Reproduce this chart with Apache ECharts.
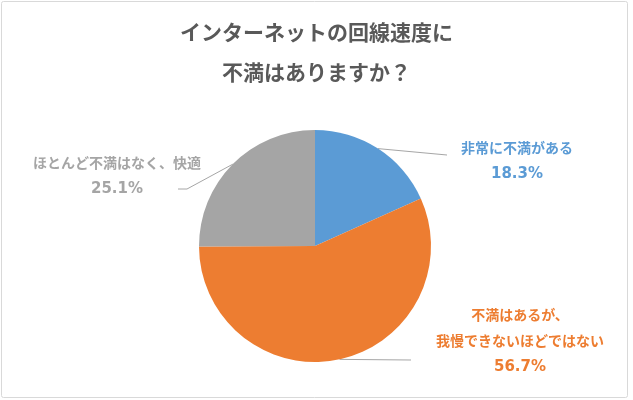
<!DOCTYPE html>
<html>
<head>
<meta charset="utf-8">
<script src="https://cdn.jsdelivr.net/npm/echarts@6/dist/echarts.min.js"></script>
<style>
html,body{margin:0;padding:0;background:#fff;}
#c{width:633px;height:400px;}
</style>
</head>
<body>
<div id="c"></div>
<script>
const titleLines = ['インターネットの回線速度に', '不満はありますか？'];
const categories = ['非常に不満がある', '不満はあるが、\n我慢できないほどではない', 'ほとんど不満はなく、快適'];
const values = [18.3, 56.7, 25.1];
const colors = ['#5B9BD5', '#ED7D31', '#A5A5A5'];

// label placement (style only)
const labelPlace = [
  { x: 517, y: 161, p1: [447, 155], p2: [447, 155] },
  { x: 520, y: 341, p1: [411, 360], p2: [411, 360] },
  { x: 117, y: 176, p1: [187, 189], p2: [178, 189] }
];

const chart = echarts.init(document.getElementById('c'), null, { renderer: 'canvas' });
const FONT = '"Noto Sans CJK JP", "Noto Sans", sans-serif';
const NUMFONT = '"DejaVu Sans", sans-serif';

chart.setOption({
  backgroundColor: '#ffffff',
  animation: false,
  graphic: [{
    type: 'rect',
    shape: { x: 1.5, y: 1.5, width: 626, height: 396, r: 2 },
    style: { fill: 'none', stroke: '#d9d9d9', lineWidth: 1 },
    silent: true
  }],
  title: {
    text: titleLines.join('\n'),
    left: 'center',
    top: 7,
    textStyle: {
      fontFamily: FONT,
      fontSize: 21,
      fontWeight: 'bold',
      color: '#595959',
      lineHeight: 40
    }
  },
  series: [{
    type: 'pie',
    center: [315, 246],
    radius: 116,
    startAngle: 90,
    clockwise: true,
    silent: true,
    emphasis: { disabled: true },
    itemStyle: { borderWidth: 0 },
    label: {
      show: true,
      position: 'outside',
      align: 'center',
      formatter: function (p) { return '{n|' + p.name + '}\n{p|' + p.value.toFixed(1) + '%}'; },
      rich: {
        n: { fontFamily: FONT, fontSize: 14, fontWeight: 'bold', lineHeight: 26, align: 'center' },
        p: { fontFamily: NUMFONT, fontSize: 15, fontWeight: 'bold', lineHeight: 26, align: 'center' }
      }
    },
    labelLine: {
      show: true,
      length: 10,
      length2: 10,
      smooth: false,
      lineStyle: { color: '#a6a6a6', width: 1 }
    },
    labelLayout: function (params) {
      const L = labelPlace[params.dataIndex];
      const p0 = params.labelLinePoints ? params.labelLinePoints[0] : L.p1;
      return {
        x: L.x,
        y: L.y,
        align: 'center',
        verticalAlign: 'middle',
        labelLinePoints: [p0, L.p1, L.p2]
      };
    },
    data: categories.map(function (name, i) {
      return {
        name: name,
        value: values[i],
        itemStyle: { color: colors[i] },
        label: { color: colors[i] }
      };
    })
  }]
});
</script>
</body>
</html>
